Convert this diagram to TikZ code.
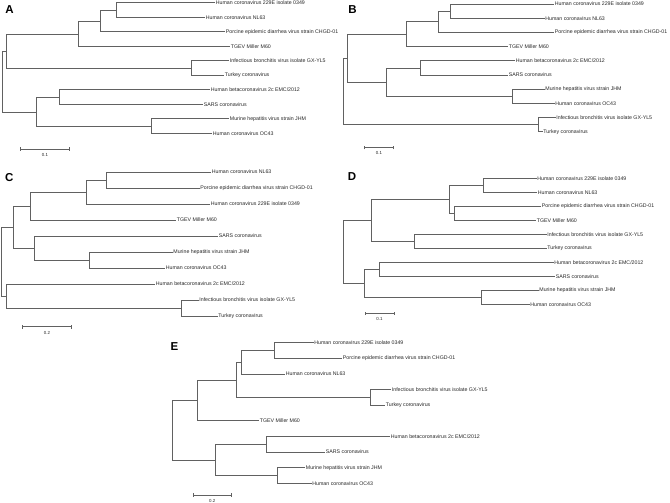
\documentclass[tikz,border=0pt]{standalone}
\usepackage{fontspec}
\setmainfont{Liberation Sans}
\begin{document}
\begin{tikzpicture}[x=1pt,y=-1pt,
  br/.style={draw=black!62, line width=0.7pt},
  lf/.style={anchor=west, inner sep=0.7pt, font=\fontsize{5.25}{6}\selectfont, text=black!85},
  pl/.style={font=\fontsize{11.5}{12}\selectfont\bfseries, inner sep=0pt},
  sb/.style={draw=black!62, line width=0.6pt},
  sl/.style={font=\fontsize{4.4}{5}\selectfont, inner sep=0pt, text=black!85}]
\useasboundingbox (0,0) rectangle (670,503);
% ---------------- Panel A ----------------
\node[pl] (LA) at (9.5,10) {A};
\coordinate (Ar) at (2,81.7);
\coordinate (Au) at (6.7,51);
\coordinate (Aal) at (78.3,34);
\coordinate (A2) at (100.7,21.5);
\coordinate (A3) at (116,10);
\coordinate (Aib) at (191,68);
\coordinate (Al) at (36.7,112);
\coordinate (Asb) at (59.3,97);
\coordinate (Amo) at (151.7,126);
\node[lf] (A229) at (215,2.7) {Human coronavirus 229E isolate 0349};
\node[lf] (ANL) at (205,17.2) {Human coronavirus NL63};
\node[lf] (APE) at (225,31.7) {Porcine epidemic diarrhea virus strain CHGD-01};
\node[lf] (ATG) at (230,46.2) {TGEV Miller M60};
\node[lf] (AIB) at (229,60.7) {Infectious bronchitis virus isolate GX-YL5};
\node[lf] (ATK) at (224,75.2) {Turkey coronavirus};
\node[lf] (AHB) at (210,89.8) {Human betacoronavirus 2c EMC/2012};
\node[lf] (ASA) at (203,104.3) {SARS coronavirus};
\node[lf] (AMH) at (229,118.8) {Murine hepatitis virus strain JHM};
\node[lf] (AOC) at (212,133.3) {Human coronavirus OC43};
\draw[br] (Ar) |- (Au) (Ar) |- (Al)
  (Au) |- (Aal) (Au) |- (Aib)
  (Aal) |- (A2) (Aal) |- (ATG.west)
  (A2) |- (A3) (A2) |- (APE.west)
  (A3) |- (A229.west) (A3) |- (ANL.west)
  (Aib) |- (AIB.west) (Aib) |- (ATK.west)
  (Al) |- (Asb) (Al) |- (Amo)
  (Asb) |- (AHB.west) (Asb) |- (ASA.west)
  (Amo) |- (AMH.west) (Amo) |- (AOC.west);
\coordinate (As1) at (20.7,149);
\coordinate (As2) at (69.3,149);
\draw[sb] (As1) -- (As2) ([yshift=-1.8pt]As1) -- ([yshift=1.8pt]As1) ([yshift=-1.8pt]As2) -- ([yshift=1.8pt]As2);
\node[sl] (AsL) at (45,154.5) {0.1};
% ---------------- Panel B ----------------
\node[pl] (LB) at (352.5,9.5) {B};
\coordinate (Br) at (343.3,91.7);
\coordinate (Bu) at (347.3,58.5);
\coordinate (Bal) at (406.7,34);
\coordinate (B2) at (438.3,21.5);
\coordinate (B3) at (450.7,11.1);
\coordinate (Bbe) at (386.7,82.2);
\coordinate (Bsb) at (420,67.9);
\coordinate (Bmo) at (512.7,96.3);
\coordinate (Bib) at (538.3,124.7);
\node[lf] (B229) at (554,4) {Human coronavirus 229E isolate 0349};
\node[lf] (BNL) at (544.5,18.2) {Human coronavirus NL63};
\node[lf] (BPE) at (554,32.4) {Porcine epidemic diarrhea virus strain CHGD-01};
\node[lf] (BTG) at (508,46.6) {TGEV Miller M60};
\node[lf] (BHB) at (515,60.8) {Human betacoronavirus 2c EMC/2012};
\node[lf] (BSA) at (508,75) {SARS coronavirus};
\node[lf] (BMH) at (544.5,89.2) {Murine hepatitis virus strain JHM};
\node[lf] (BOC) at (554.5,103.4) {Human coronavirus OC43};
\node[lf] (BIB) at (555.5,117.6) {Infectious bronchitis virus isolate GX-YL5};
\node[lf] (BTK) at (542.5,131.8) {Turkey coronavirus};
\draw[br] (Br) |- (Bu) (Br) |- (Bib)
  (Bu) |- (Bal) (Bu) |- (Bbe)
  (Bal) |- (B2) (Bal) |- (BTG.west)
  (B2) |- (B3) (B2) |- (BPE.west)
  (B3) |- (B229.west) (B3) |- (BNL.west)
  (Bbe) |- (Bsb) (Bbe) |- (Bmo)
  (Bsb) |- (BHB.west) (Bsb) |- (BSA.west)
  (Bmo) |- (BMH.west) (Bmo) |- (BOC.west)
  (Bib) |- (BIB.west) (Bib) |- (BTK.west);
\coordinate (Bs1) at (364.5,147.5);
\coordinate (Bs2) at (393.3,147.5);
\draw[sb] (Bs1) -- (Bs2) ([yshift=-1.8pt]Bs1) -- ([yshift=1.8pt]Bs1) ([yshift=-1.8pt]Bs2) -- ([yshift=1.8pt]Bs2);
\node[sl] (BsL) at (379,153) {0.1};
% ---------------- Panel C ----------------
\node[pl] (LC) at (9.2,177.5) {C};
\coordinate (Cr) at (1.7,261.5);
\coordinate (Cu) at (13.3,227);
\coordinate (Cal) at (30,206);
\coordinate (C2) at (86,192);
\coordinate (C3) at (106.7,180);
\coordinate (Cbe) at (34.3,248);
\coordinate (Cmo) at (89,260);
\coordinate (Cl) at (6.7,296);
\coordinate (Cib) at (181,308);
\node[lf] (CNL) at (211,172) {Human coronavirus NL63};
\node[lf] (CPE) at (199.5,188) {Porcine epidemic diarrhea virus strain CHGD-01};
\node[lf] (C229) at (210,204) {Human coronavirus 229E isolate 0349};
\node[lf] (CTG) at (176,220) {TGEV Miller M60};
\node[lf] (CSA) at (218,236) {SARS coronavirus};
\node[lf] (CMH) at (172.5,252) {Murine hepatitis virus strain JHM};
\node[lf] (COC) at (165,268) {Human coronavirus OC43};
\node[lf] (CHB) at (155,284) {Human betacoronavirus 2c EMC/2012};
\node[lf] (CIB) at (198.5,300) {Infectious bronchitis virus isolate GX-YL5};
\node[lf] (CTK) at (217.5,316) {Turkey coronavirus};
\draw[br] (Cr) |- (Cu) (Cr) |- (Cl)
  (Cu) |- (Cal) (Cu) |- (Cbe)
  (Cal) |- (C2) (Cal) |- (CTG.west)
  (C2) |- (C3) (C2) |- (C229.west)
  (C3) |- (CNL.west) (C3) |- (CPE.west)
  (Cbe) |- (CSA.west) (Cbe) |- (Cmo)
  (Cmo) |- (CMH.west) (Cmo) |- (COC.west)
  (Cl) |- (CHB.west) (Cl) |- (Cib)
  (Cib) |- (CIB.west) (Cib) |- (CTK.west);
\coordinate (Cs1) at (22.7,326.7);
\coordinate (Cs2) at (71.7,326.7);
\draw[sb] (Cs1) -- (Cs2) ([yshift=-1.8pt]Cs1) -- ([yshift=1.8pt]Cs1) ([yshift=-1.8pt]Cs2) -- ([yshift=1.8pt]Cs2);
\node[sl] (CsL) at (47,333) {0.2};
% ---------------- Panel D ----------------
\node[pl] (LD) at (352,176.3) {D};
\coordinate (Dr) at (343.3,252);
\coordinate (Du) at (371.7,220.7);
\coordinate (Dal) at (449,199.3);
\coordinate (D3) at (483.3,185.3);
\coordinate (D4) at (454.3,213.3);
\coordinate (Dib) at (414,241.3);
\coordinate (Dl) at (364,283.3);
\coordinate (Dsb) at (379.3,269.3);
\coordinate (Dmo) at (481.7,297.3);
\node[lf] (D229) at (536.5,178.3) {Human coronavirus 229E isolate 0349};
\node[lf] (DNL) at (537,192.3) {Human coronavirus NL63};
\node[lf] (DPE) at (541,206.3) {Porcine epidemic diarrhea virus strain CHGD-01};
\node[lf] (DTG) at (536,220.3) {TGEV Miller M60};
\node[lf] (DIB) at (546.5,234.3) {Infectious bronchitis virus isolate GX-YL5};
\node[lf] (DTK) at (546.5,248.3) {Turkey coronavirus};
\node[lf] (DHB) at (553.5,262.3) {Human betacoronavirus 2c EMC/2012};
\node[lf] (DSA) at (555,276.3) {SARS coronavirus};
\node[lf] (DMH) at (538.5,290.3) {Murine hepatitis virus strain JHM};
\node[lf] (DOC) at (529.5,304.3) {Human coronavirus OC43};
\draw[br] (Dr) |- (Du) (Dr) |- (Dl)
  (Du) |- (Dal) (Du) |- (Dib)
  (Dal) |- (D3) (Dal) |- (D4)
  (D3) |- (D229.west) (D3) |- (DNL.west)
  (D4) |- (DPE.west) (D4) |- (DTG.west)
  (Dib) |- (DIB.west) (Dib) |- (DTK.west)
  (Dl) |- (Dsb) (Dl) |- (Dmo)
  (Dsb) |- (DHB.west) (Dsb) |- (DSA.west)
  (Dmo) |- (DMH.west) (Dmo) |- (DOC.west);
\coordinate (Ds1) at (365.7,313.3);
\coordinate (Ds2) at (394,313.3);
\draw[sb] (Ds1) -- (Ds2) ([yshift=-1.8pt]Ds1) -- ([yshift=1.8pt]Ds1) ([yshift=-1.8pt]Ds2) -- ([yshift=1.8pt]Ds2);
\node[sl] (DsL) at (379.5,318.7) {0.1};
% ---------------- Panel E ----------------
\node[pl] (LE) at (174.5,346.7) {E};
\coordinate (Er) at (172.7,430);
\coordinate (Eu) at (197.7,400.4);
\coordinate (Ea) at (236.7,380);
\coordinate (Eb) at (241,362.2);
\coordinate (Ec) at (274.3,350.5);
\coordinate (Eib) at (370,397.4);
\coordinate (El) at (215,459.9);
\coordinate (Esb) at (266,444.2);
\coordinate (Emo) at (277.3,475.5);
\node[lf] (E229) at (313.5,342.7) {Human coronavirus 229E isolate 0349};
\node[lf] (EPE) at (342,358.3) {Porcine epidemic diarrhea virus strain CHGD-01};
\node[lf] (ENL) at (285,373.9) {Human coronavirus NL63};
\node[lf] (EIB) at (391,389.6) {Infectious bronchitis virus isolate GX-YL5};
\node[lf] (ETK) at (385,405.2) {Turkey coronavirus};
\node[lf] (ETG) at (259,420.8) {TGEV Miller M60};
\node[lf] (EHB) at (390,436.4) {Human betacoronavirus 2c EMC/2012};
\node[lf] (ESA) at (325,452) {SARS coronavirus};
\node[lf] (EMH) at (305,467.7) {Murine hepatitis virus strain JHM};
\node[lf] (EOC) at (311.5,483.3) {Human coronavirus OC43};
\draw[br] (Er) |- (Eu) (Er) |- (El)
  (Eu) |- (Ea) (Eu) |- (ETG.west)
  (Ea) |- (Eb) (Ea) |- (Eib)
  (Eb) |- (Ec) (Eb) |- (ENL.west)
  (Ec) |- (E229.west) (Ec) |- (EPE.west)
  (Eib) |- (EIB.west) (Eib) |- (ETK.west)
  (El) |- (Esb) (El) |- (Emo)
  (Esb) |- (EHB.west) (Esb) |- (ESA.west)
  (Emo) |- (EMH.west) (Emo) |- (EOC.west);
\coordinate (Es1) at (193.3,495);
\coordinate (Es2) at (231,495);
\draw[sb] (Es1) -- (Es2) ([yshift=-1.8pt]Es1) -- ([yshift=1.8pt]Es1) ([yshift=-1.8pt]Es2) -- ([yshift=1.8pt]Es2);
\node[sl] (EsL) at (212.3,500.5) {0.2};
\end{tikzpicture}
\end{document}
